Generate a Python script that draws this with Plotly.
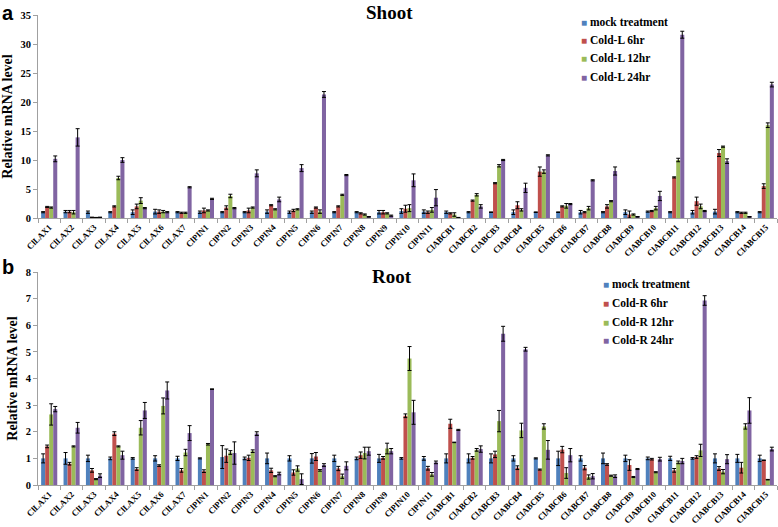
import plotly.graph_objects as go
from plotly.subplots import make_subplots

GENES = ([f"ClLAX{i}" for i in range(1, 8)] + [f"ClPIN{i}" for i in range(1, 12)]
         + [f"ClABCB{i}" for i in range(1, 16)])

# --- Shoot (panel a) ---
SHOOT_MOCK = [1.0, 1.1, 1.0, 1.0, 1.0, 1.1, 1.0, 1.0, 1.0, 1.0, 1.1, 1.0, 1.0, 1.0, 1.0, 1.0, 1.2,
              1.1, 1.0, 1.0, 1.0, 1.0, 1.0, 1.0, 1.0, 1.0, 1.0, 1.1, 1.0, 1.0, 1.1, 1.0, 1.0]
SHOOT_6H = [1.9, 1.1, 0.1, 2.0, 2.0, 1.1, 0.9, 1.3, 1.8, 1.3, 2.2, 1.3, 1.8, 2.0, 0.8, 1.0, 1.6,
            1.0, 0.8, 3.0, 6.0, 2.2, 8.0, 2.0, 1.0, 2.0, 0.6, 1.2, 7.0, 2.9, 11.2, 0.9, 5.5]
SHOOT_12H = [1.8, 1.0, 0.05, 6.9, 3.0, 1.1, 0.9, 1.3, 3.8, 1.8, 1.5, 1.5, 1.1, 4.0, 0.6, 0.8, 1.7,
             1.4, 0.6, 4.0, 9.0, 1.4, 8.0, 2.1, 1.7, 2.9, 0.6, 1.7, 10.0, 2.0, 12.3, 0.9, 16.0]
SHOOT_24H = [10.2, 13.9, 0.1, 10.0, 1.7, 1.0, 5.3, 3.3, 1.7, 7.7, 3.2, 8.6, 21.3, 7.4, 0.2, 0.4, 6.5,
             3.5, 0.05, 2.0, 10.0, 5.2, 10.8, 2.4, 6.5, 8.1, 0.2, 3.8, 31.6, 1.2, 9.8, 0.2, 23.0]
SHOOT_ERR = [
    [0.1, 0.2, 0.2, 0.1, 0.4, 0.4, 0.1, 0.2, 0.1, 0.1, 0.3, 0.2, 0.2, 0.1, 0.1, 0.3, 0.4,
     0.3, 0.2, 0.1, 0.05, 0.4, 0.05, 0.05, 0.3, 0.1, 0.4, 0.1, 0.1, 0.3, 0.4, 0.1, 0.1],
    [0.1, 0.2, 0.05, 0.1, 0.4, 0.3, 0.1, 0.4, 0.3, 0.4, 0.1, 0.2, 0.1, 0.1, 0.1, 0.3, 0.6,
     0.2, 0.1, 0.1, 0.1, 0.6, 0.8, 0.1, 0.1, 0.3, 0.6, 0.1, 0.1, 0.7, 0.6, 0.1, 0.4],
    [0.1, 0.3, 0.05, 0.3, 0.5, 0.2, 0.1, 0.1, 0.3, 0.1, 0.1, 0.1, 0.3, 0.1, 0.1, 0.1, 0.6,
     0.4, 0.3, 0.2, 0.2, 0.2, 0.3, 0.4, 0.3, 0.1, 0.1, 0.3, 0.3, 0.4, 0.1, 0.1, 0.4],
    [0.5, 1.5, 0.05, 0.4, 0.1, 0.1, 0.1, 0.1, 0.1, 0.6, 0.4, 0.6, 0.5, 0.1, 0.05, 0.1, 1.1,
     1.4, 0.05, 0.3, 0.1, 0.8, 0.1, 0.1, 0.1, 0.7, 0.05, 0.8, 0.6, 0.1, 0.4, 0.05, 0.4],
]

# --- Root (panel b) ---
ROOT_MOCK = [1.0, 1.0, 1.0, 1.0, 1.0, 1.0, 1.0, 1.0, 1.05, 1.0, 1.0, 1.0, 1.0, 1.0, 1.0, 1.0, 1.0,
             1.0, 1.0, 1.0, 1.0, 1.0, 1.0, 1.0, 1.0, 1.0, 1.0, 1.0, 1.0, 1.0, 1.0, 1.0, 1.0]
ROOT_6H = [1.45, 0.8, 0.55, 1.93, 0.6, 0.73, 0.55, 0.52, 1.1, 1.02, 0.55, 0.47, 1.07, 0.62, 1.12, 1.02, 2.6,
           0.63, 2.3, 1.02, 1.15, 0.65, 0.58, 1.33, 0.65, 0.77, 0.75, 0.97, 0.55, 1.05, 0.62, 0.65, 0.93]
ROOT_12H = [2.65, 1.45, 0.22, 1.45, 2.15, 2.97, 1.22, 1.53, 1.22, 1.27, 0.33, 0.62, 0.55, 0.33, 1.2, 1.37, 4.75,
            0.4, 1.6, 1.32, 2.4, 2.05, 2.2, 0.45, 0.3, 0.35, 0.3, 0.48, 0.85, 1.3, 0.5, 2.2, 0.2]
ROOT_24H = [2.85, 2.15, 0.35, 1.12, 2.8, 3.55, 1.95, 3.6, 1.2, 1.93, 0.43, 0.22, 0.75, 0.72, 1.27, 1.27, 2.73,
            0.85, 2.07, 1.35, 5.68, 5.1, 1.32, 1.12, 0.33, 0.33, 0.6, 0.97, 0.9, 6.93, 0.97, 2.8, 1.35]
ROOT_ERR = [
    [0.17, 0.22, 0.12, 0.05, 0.03, 0.1, 0.08, 0.02, 0.43, 0.05, 0.2, 0.1, 0.18, 0.12, 0.05, 0.15, 0.03,
     0.07, 0.17, 0.17, 0.17, 0.1, 0.02, 0.27, 0.1, 0.2, 0.12, 0.05, 0.08, 0.03, 0.17, 0.15, 0.12],
    [0.05, 0.05, 0.07, 0.07, 0.05, 0.03, 0.07, 0.05, 0.25, 0.1, 0.08, 0.1, 0.15, 0.08, 0.12, 0.05, 0.07,
     0.07, 0.17, 0.05, 0.12, 0.07, 0.02, 0.12, 0.08, 0.03, 0.2, 0.03, 0.07, 0.05, 0.07, 0.2, 0.01],
    [0.4, 0.02, 0.02, 0.02, 0.27, 0.3, 0.12, 0.03, 0.07, 0.05, 0.02, 0.1, 0.03, 0.08, 0.22, 0.2, 0.45,
     0.07, 0.01, 0.05, 0.4, 0.27, 0.1, 0.2, 0.08, 0.02, 0.02, 0.02, 0.05, 0.23, 0.08, 0.1, 0.01],
    [0.1, 0.2, 0.07, 0.15, 0.3, 0.32, 0.28, 0.01, 0.42, 0.07, 0.05, 0.2, 0.05, 0.15, 0.15, 0.1, 0.45,
     0.05, 0.02, 0.12, 0.28, 0.07, 0.35, 0.25, 0.1, 0.05, 0.02, 0.07, 0.1, 0.18, 0.17, 0.48, 0.07],
]

SHOOT_NAMES = ["mock treatment", "Cold-L 6hr", "Cold-L 12hr", "Cold-L 24hr"]
ROOT_NAMES = ["mock treatment", "Cold-R 6hr", "Cold-R 12hr", "Cold-R 24hr"]

COLORS = ["#4F81BD", "#C0504D", "#9BBB59", "#8064A2"]
SERIF = "Liberation Serif"
AXIS_GRAY = "#a0a0a0"
W, H = 778, 527


def px_x(p):
    return p / W


def px_y(p):
    return 1 - p / H


fig = make_subplots(rows=2, cols=1)

shoot_vals = [SHOOT_MOCK, SHOOT_6H, SHOOT_12H, SHOOT_24H]
root_vals = [ROOT_MOCK, ROOT_6H, ROOT_12H, ROOT_24H]
for row, names, vals, errs in [(1, SHOOT_NAMES, shoot_vals, SHOOT_ERR),
                               (2, ROOT_NAMES, root_vals, ROOT_ERR)]:
    for i in range(4):
        fig.add_trace(go.Bar(
            x=GENES, y=vals[i], name=names[i], marker_color=COLORS[i],
            marker_line_width=0, showlegend=False,
            error_y=dict(type="data", array=errs[i], color="black", thickness=1, width=2),
        ), row=row, col=1)

# legend drawn as text rows (small square + bold label), like the original
legend_notes = []
for names, x0, ys in [(SHOOT_NAMES, 579, [22, 40, 58, 77]),
                      (ROOT_NAMES, 601, [284, 303, 322, 340])]:
    for name, color, y in zip(names, COLORS, ys):
        legend_notes.append(dict(
            text=f"<span style='color:{color};font-size:10px'>■</span> <b>{name}</b>",
            x=px_x(x0), y=px_y(y), xref="paper", yref="paper", xanchor="left",
            yanchor="middle", showarrow=False,
            font=dict(family=SERIF, size=11.5, color="black")))

xaxis_common = dict(
    showline=True, linecolor=AXIS_GRAY, ticks="outside", tickson="boundaries",
    ticklen=4, tickcolor=AXIS_GRAY, tickangle=-45,
    tickfont=dict(family=SERIF, size=8.6, color="black"),
    automargin=False, domain=[px_x(38), px_x(777)], showgrid=False,
    tickprefix="<b>", ticksuffix="</b>",
)
yaxis_common = dict(
    showline=True, linecolor=AXIS_GRAY, ticks="outside", ticklen=4, tickcolor=AXIS_GRAY,
    tickfont=dict(family=SERIF, size=10.5, color="black"), showgrid=False, zeroline=False,
    automargin=False, tickprefix="<b>", ticksuffix="</b>",
    title=dict(text="<b>Relative mRNA level</b>", font=dict(family=SERIF, size=14, color="black"),
               standoff=4),
)

fig.update_layout(
    width=W, height=H, barmode="group", bargap=0.28, bargroupgap=0,
    paper_bgcolor="white", plot_bgcolor="white",
    margin=dict(l=0, r=0, t=0, b=0),
    font=dict(family=SERIF, color="black"),
    showlegend=False,
    xaxis=dict(**xaxis_common),
    xaxis2=dict(**xaxis_common),
    yaxis=dict(**yaxis_common, range=[0, 35], dtick=5, domain=[px_y(218), px_y(15)]),
    yaxis2=dict(**yaxis_common, range=[0, 8], dtick=1, domain=[px_y(485), px_y(272)]),
    annotations=legend_notes + [
        dict(text="<b>Shoot</b>", x=px_x(390), y=px_y(13), xref="paper", yref="paper",
             xanchor="center", yanchor="middle", showarrow=False,
             font=dict(family=SERIF, size=19, color="black")),
        dict(text="<b>Root</b>", x=px_x(392), y=px_y(276), xref="paper", yref="paper",
             xanchor="center", yanchor="middle", showarrow=False,
             font=dict(family=SERIF, size=19, color="black")),
        dict(text="<b>a</b>", x=px_x(8), y=px_y(1), xref="paper", yref="paper",
             xanchor="center", yanchor="top", showarrow=False, borderpad=0,
             font=dict(family="Liberation Sans", size=20, color="black")),
        dict(text="<b>b</b>", x=px_x(8), y=px_y(267), xref="paper", yref="paper",
             xanchor="center", yanchor="middle", showarrow=False,
             font=dict(family="Liberation Sans", size=20, color="black")),
    ],
)

fig.write_html("out.html", config={"displayModeBar": False},
               post_script="document.body.style.margin='0';")
